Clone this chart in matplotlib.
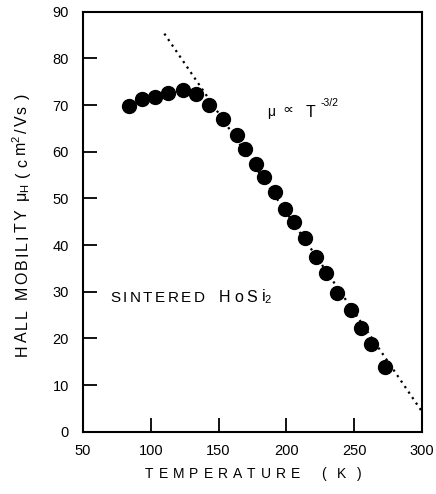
import matplotlib
matplotlib.use("Agg")
import matplotlib.pyplot as plt
from matplotlib.font_manager import FontProperties

# ---- data ----
temperature = [84, 93.3, 103, 112.4, 123.5, 133.4, 143.2, 153, 163.6, 169.8, 177.7,
               183.3, 191.3, 198.7, 205.6, 213.5, 222.1, 229, 237.6, 247.5, 254.9,
               262.3, 272.6]
mobility = [69.7, 71.2, 71.7, 72.6, 73.3, 72.4, 70.1, 67.1, 63.6, 60.6, 57.4,
            54.5, 51.3, 47.8, 45.0, 41.5, 37.5, 34.0, 29.8, 26.1, 22.2, 18.7, 13.9]
fit_T = [110, 300]
fit_mu = [85.3, 4.3]
x_ticks = [50, 100, 150, 200, 250, 300]
y_ticks = [0, 10, 20, 30, 40, 50, 60, 70, 80, 90]

FONT = "Liberation Sans"
W, H, DPI = 436, 494, 100
fig = plt.figure(figsize=(W / DPI, H / DPI), dpi=DPI)
ax = fig.add_axes([83 / W, 1 - 431.7 / H, (422 - 83) / W, (431.7 - 11.7) / H])

ax.plot(fit_T, fit_mu, linestyle=(0, (1, 2)), color="black", lw=1.6, zorder=2)
ax.plot(temperature, mobility, "o", color="black", ms=10, zorder=3)

ax.set_xlim(50, 300)
ax.set_ylim(0, 90)
ax.set_xticks(x_ticks)
ax.set_yticks(y_ticks)
ax.tick_params(direction="in", length=10, width=1.3, top=False, right=False,
               labelsize=10.5)
ax.tick_params(axis="x", pad=9)
ax.tick_params(axis="y", pad=10)
for lab in ax.get_xticklabels() + ax.get_yticklabels():
    lab.set_fontfamily(FONT)
for sp in ax.spines.values():
    sp.set_linewidth(1.5)

renderer = fig.canvas.get_renderer()


def spaced(x0, y0, chunks, size, track, rotation=0):
    """Draw chunks of text with extra letter spacing (pixel offsets from bottom-left)."""
    prop = FontProperties(family=FONT, size=size)
    pos = 0.0
    for ch in chunks:
        if isinstance(ch, (int, float)):
            pos += ch
            continue
        ismath = "$" in ch
        wpx, _, _ = renderer.get_text_width_height_descent(ch, prop, ismath=ismath)
        if rotation == 0:
            fig.text((x0 + pos) / W, y0 / H, ch, fontproperties=prop,
                     ha="left", va="baseline")
        else:
            fig.text(x0 / W, (y0 + pos) / H, ch, fontproperties=prop,
                     ha="left", va="baseline", rotation=90, rotation_mode="anchor")
        pos += wpx + track


# x label
spaced(145, 16, list("TEMPERATURE") + [16, "(", 6, "K", 6, ")"], 10, 5.0)
# y label
spaced(27, 138, list("HALL") + [8] + list("MOBILITY") + [5, r"$\mathregular{\mu_H}$", 4,
       "(", 3, "c", r"$\mathregular{m^2}$", "/", "V", "s", 4, ")"], 11.5, 2.2, rotation=90)
# annotation
spaced(110, 192.5, list("SINTERED"), 11, 2.5)
spaced(219, 192.5, ["H", 1, "o", 1, "S", 1, r"$\mathregular{i_2}$"], 11.5, 2.5)
fig.text(267 / W, 378 / H, r"$\mathregular{\mu}$", fontfamily=FONT, fontsize=10,
         ha="left", va="baseline")
fig.text(282 / W, 380 / H, "\u221d", fontfamily="DejaVu Sans", fontsize=11,
         ha="left", va="baseline")
fig.text(306 / W, 377 / H, "T", fontfamily=FONT, fontsize=11.5, ha="left", va="baseline")
fig.text(321 / W, 388 / H, "-3/2", fontfamily=FONT, fontsize=7.5, ha="left",
         va="baseline")

fig.savefig("out.png", dpi=DPI)
